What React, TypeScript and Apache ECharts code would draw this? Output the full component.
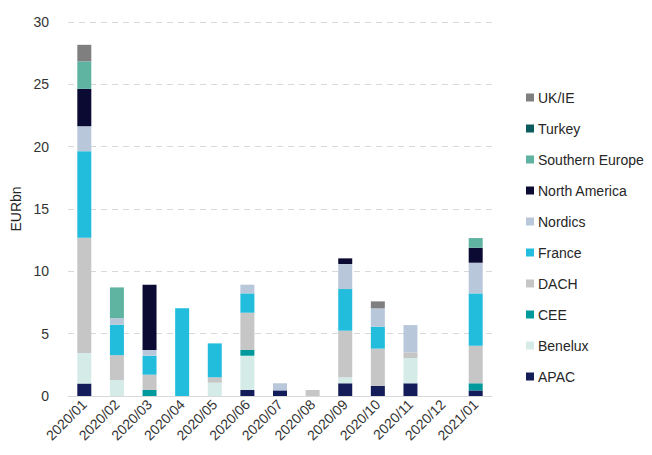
import React, { useEffect, useRef } from "react";
import * as echarts from "echarts";

const categories = ["2020/01", "2020/02", "2020/03", "2020/04", "2020/05", "2020/06", "2020/07", "2020/08", "2020/09", "2020/10", "2020/11", "2020/12", "2021/01"];

const apac = [1.0, 0, 0, 0, 0, 0.48, 0.45, 0, 1.02, 0.8, 1.02, 0, 0.45];
const benelux = [2.45, 1.28, 0, 0, 1.07, 2.75, 0, 0, 0.48, 0, 2.03, 0, 0];
const cee = [0, 0, 0.48, 0, 0, 0.46, 0, 0, 0, 0, 0, 0, 0.57];
const dach = [9.25, 2.0, 1.23, 0, 0.43, 2.99, 0, 0.48, 3.74, 3.0, 0.45, 0, 3.01];
const france = [6.94, 2.43, 1.52, 7.03, 2.72, 1.55, 0, 0, 3.34, 1.76, 0, 0, 4.2];
const nordics = [2.0, 0.54, 0.46, 0, 0, 0.7, 0.57, 0, 2.01, 1.47, 2.19, 0, 2.46];
const northAmerica = [3.0, 0, 5.24, 0, 0, 0, 0, 0, 0.45, 0, 0, 0, 1.2];
const southernEurope = [2.2, 2.46, 0, 0, 0, 0, 0, 0, 0, 0, 0, 0, 0.78];
const turkey = [0, 0, 0, 0, 0, 0, 0, 0, 0, 0, 0, 0, 0];
const ukIe = [1.33, 0, 0, 0, 0, 0, 0, 0, 0, 0.56, 0, 0, 0];

const seriesNames = ["APAC", "Benelux", "CEE", "DACH", "France", "Nordics", "North America", "Southern Europe", "Turkey", "UK/IE"];
const seriesValues = [apac, benelux, cee, dach, france, nordics, northAmerica, southernEurope, turkey, ukIe];
const seriesColors = ["#141c5a", "#d4ebe8", "#009a9c", "#c6c6c6", "#22bcdc", "#b8c8da", "#0a0a33", "#5fb3a1", "#0b5c5c", "#7f7f7f"];

const yTicks = [0, 5, 10, 15, 20, 25, 30];

const FONT = "'Liberation Sans', Arial, sans-serif";

export default function App() {
  const ref = useRef<HTMLDivElement>(null);
  useEffect(() => {
    if (!ref.current) return;
    const chart = echarts.init(ref.current, undefined, { renderer: "svg" });
    chart.setOption({
      animation: false,
      textStyle: { fontFamily: FONT },
      grid: { left: 68, right: 160, top: 22, bottom: 59, containLabel: false },
      legend: {
        orient: "vertical",
        left: 521,
        top: 84,
        itemWidth: 8,
        itemHeight: 8,
        itemGap: 14,
        icon: "rect",
        data: seriesNames.slice().reverse(),
        textStyle: { fontSize: 14, color: "#262626", fontFamily: FONT, lineHeight: 17, padding: [0, 0, 0, -1] },
      },
      xAxis: {
        type: "category",
        data: categories,
        axisLine: { lineStyle: { color: "#d9d9d9", width: 1 } },
        axisTick: { show: false },
        axisLabel: { rotate: 45, fontSize: 14, color: "#333", margin: 6, interval: 0, fontFamily: FONT },
      },
      yAxis: {
        type: "value",
        min: yTicks[0],
        max: yTicks[yTicks.length - 1],
        interval: 5,
        name: "EURbn",
        nameLocation: "middle",
        nameGap: 39,
        nameRotate: 90,
        nameTextStyle: { fontSize: 14, color: "#262626", fontFamily: FONT },
        axisLine: { show: false },
        axisTick: { show: false },
        axisLabel: { fontSize: 14, color: "#333", margin: 19, fontFamily: FONT },
        splitLine: { lineStyle: { color: "#d9d9d9", type: [6, 5], width: 1 } },
      },
      series: seriesNames.map((name, i) => ({
        name,
        type: "bar",
        stack: "total",
        barWidth: 14,
        data: seriesValues[i],
        itemStyle: { color: seriesColors[i] },
      })),
    });
    return () => chart.dispose();
  }, []);
  return <div ref={ref} style={{ width: 652, height: 455, position: "absolute", left: 0, top: 0 }} />;
}
